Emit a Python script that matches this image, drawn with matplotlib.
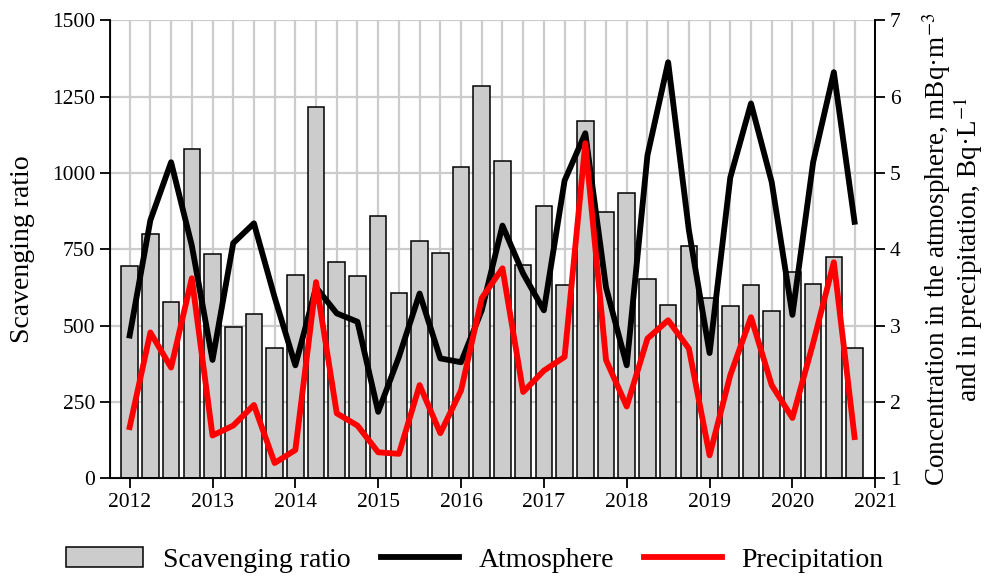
import numpy as np
import matplotlib.pyplot as plt
from matplotlib.ticker import MultipleLocator

plt.rcParams['font.family'] = ['Liberation Serif', 'DejaVu Serif']
plt.rcParams['mathtext.fontset'] = 'stix'

# quarterly values, 2012 Q1 .. 2020 Q4
quarters = 2012 + 0.25 * np.arange(36)

scavenging = [694, 799, 576, 1077, 736, 495, 538, 426, 667, 1215, 708, 664,
              858, 607, 777, 737, 1021, 1286, 1039, 697, 892, 633, 1169, 871,
              935, 653, 569, 761, 591, 564, 633, 547, 676, 637, 725, 425]

atmosphere = [2.87, 4.38, 5.14, 4.05, 2.55, 4.08, 4.34, 3.37, 2.48, 3.50, 3.16, 3.05,
              1.87, 2.59, 3.42, 2.57, 2.52, 3.20, 4.31, 3.68, 3.20, 4.90, 5.52, 3.50,
              2.48, 5.23, 6.45, 4.25, 2.64, 4.94, 5.91, 4.88, 3.14, 5.14, 6.32, 4.36]

precipitation = [1.67, 2.91, 2.45, 3.62, 1.56, 1.69, 1.96, 1.20, 1.37, 3.57, 1.85, 1.69,
                 1.34, 1.32, 2.22, 1.59, 2.15, 3.36, 3.75, 2.13, 2.41, 2.59, 5.39, 2.55,
                 1.94, 2.83, 3.07, 2.70, 1.30, 2.35, 3.11, 2.22, 1.79, 2.77, 3.83, 1.54]

fig = plt.figure(figsize=(9.89, 5.79), dpi=100)
ax = fig.add_axes([0.111, 0.174, 0.774, 0.791])

ax.set_axisbelow(True)
bars = ax.bar(quarters, scavenging, width=0.2, color='#cccccc',
              edgecolor='black', linewidth=1.1, label='Scavenging ratio', zorder=2)
ax.set_xlim(2011.76, 2021)
ax.set_ylim(0, 1500)
ax.xaxis.set_major_locator(MultipleLocator(1))
ax.xaxis.set_minor_locator(MultipleLocator(0.25))
ax.yaxis.set_major_locator(MultipleLocator(250))
ax.grid(which='both', axis='x', color='#cccccc', linewidth=1.6)
ax.grid(which='major', axis='y', color='#cccccc', linewidth=1.6)
ax.tick_params(which='minor', length=0)
ax.tick_params(which='major', direction='out', length=7, width=1.3, labelsize=15.5,
               color='black')
ax.spines['top'].set_visible(False)
for s in ['left', 'right', 'bottom']:
    ax.spines[s].set_linewidth(1.3)
ax.set_ylabel('Scavenging ratio', fontsize=20, labelpad=12)

ax2 = ax.twinx()
l1, = ax2.plot(quarters, atmosphere, color='black', linewidth=4.2, label='Atmosphere')
l2, = ax2.plot(quarters, precipitation, color='#ff0000', linewidth=4.2,
               label='Precipitation')
ax2.set_ylim(1, 7)
ax2.yaxis.set_major_locator(MultipleLocator(1))
ax2.tick_params(direction='out', length=7, width=1.3, labelsize=15.5)
ax2.spines['top'].set_visible(False)
ax2.spines['right'].set_linewidth(1.3)
ax2.set_ylabel('Concentration in the atmosphere, mBq·m$^{-3}$\n'
               'and in precipitation, Bq·L$^{-1}$', fontsize=19.5, labelpad=14,
               linespacing=0.95)

fig.legend(handles=[bars, l1, l2], loc='center', bbox_to_anchor=(0.48, 0.033),
           ncol=3, frameon=False, fontsize=20, handlelength=2.8,
           columnspacing=1.1, handletextpad=0.7)

fig.savefig('out.png', dpi=100)
